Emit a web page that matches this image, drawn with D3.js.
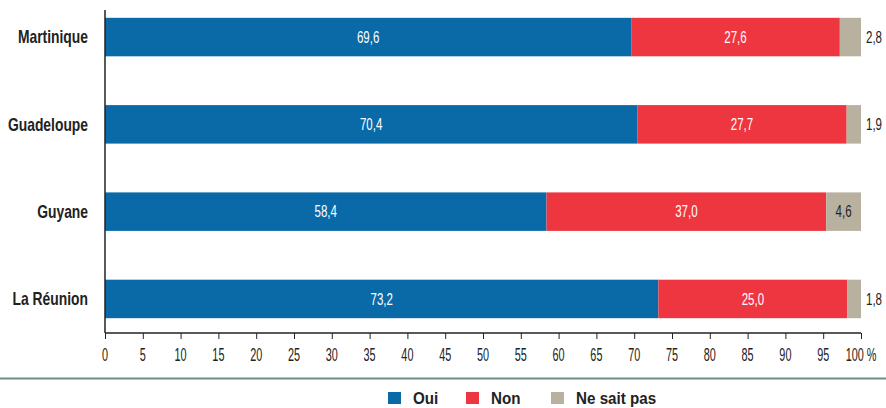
<!DOCTYPE html>
<html><head><meta charset="utf-8">
<script src="https://cdn.jsdelivr.net/npm/d3@7"></script>
<style>
body{margin:0;background:#fff;}
svg{display:block;font-family:"Liberation Sans","Roboto",sans-serif;}
</style></head><body>
<svg id="c" width="886" height="408"></svg>
<script>
const categories = ["Martinique","Guadeloupe","Guyane","La Réunion"];
const oui = [69.6, 70.4, 58.4, 73.2];
const non = [27.6, 27.7, 37.0, 25.0];
const nsp = [2.8, 1.9, 4.6, 1.8];
const seriesNames = ["Oui","Non","Ne sait pas"];
const colors = ["#0a6aa8","#ee3640","#b9b19f"];
const ticks = d3.range(0,101,5);
const unit = "%";

const svg = d3.select("#c");
const x = d3.scaleLinear().domain([0,100]).range([105,861]);
const y = d3.scaleBand().domain(categories).range([-2,338]).paddingInner(0.559).paddingOuter(0.227);
const fmt = v => v.toFixed(1).replace(".", ",");

// condensed text helper
function ctext(px, py, str, opt){
  const g = svg.append("g").attr("transform",`translate(${px},${py}) scale(${opt.sx||0.7},1)`);
  return g.append("text").attr("x",0).attr("y",0).attr("dy","0.35em")
    .attr("text-anchor",opt.anchor||"start").attr("fill",opt.fill||"#222")
    .attr("font-size",opt.size||14).attr("font-weight",opt.weight||"normal").text(str);
}

const rows = categories.map((c,i)=>({c, vals:[oui[i],non[i],nsp[i]]}));
rows.forEach(r=>{
  const cy = y(r.c)+y.bandwidth()/2;
  let acc=0;
  r.vals.forEach((v,k)=>{
    const x0=acc, x1=acc+v; acc=x1;
    svg.append("rect").attr("x",x(x0)).attr("width",x(x1)-x(x0))
      .attr("y",y(r.c)).attr("height",y.bandwidth()).attr("fill",colors[k]);
  });
  acc=0;
  r.vals.forEach((v,k)=>{
    const x0=acc, x1=acc+v; acc=x1;
    const o = {size:16, sx:0.72};
    if(k<2){
      ctext((x(x0)+x(x1))/2, cy, fmt(v), Object.assign(o,{anchor:"middle",fill:"#fff"}));
    } else if (v>=4){
      ctext((x(x0)+x(x1))/2, cy, fmt(v), Object.assign(o,{anchor:"middle",fill:"#222"}));
    } else {
      ctext(x(100)+5, cy, fmt(v), Object.assign(o,{anchor:"start",fill:"#222"}));
    }
  });
  ctext(88, cy, r.c, {anchor:"end",size:18,weight:"bold",sx:0.77});
});

// axes
svg.append("line").attr("x1",x(0)).attr("x2",x(0)).attr("y1",10).attr("y2",333)
  .attr("stroke","#222").attr("stroke-width",1.5);
const ax = svg.append("g").attr("transform","translate(0,333)")
  .call(d3.axisBottom(x).tickValues(ticks).tickSize(6).tickFormat(""));
ax.select(".domain").attr("stroke","#222").attr("stroke-width",1.5).attr("d",`M${x(0)},0H${x(100)}`);
ax.selectAll(".tick line").attr("stroke","#222");
ticks.forEach((t,i)=>{
  const label = i===ticks.length-1 ? `${t} ${unit}` : String(t);
  ctext(x(t), 355, label, {anchor:"middle",size:17.5,sx:0.62});
});

// separator
svg.append("line").attr("x1",0).attr("x2",886).attr("y1",378.5).attr("y2",378.5)
  .attr("stroke","#6f9088").attr("stroke-width",2);

// legend
const legX=[388,466,551];
seriesNames.forEach((n,k)=>{
  svg.append("rect").attr("x",legX[k]).attr("y",392).attr("width",13).attr("height",12).attr("fill",colors[k]);
  ctext(legX[k]+25, 398, n, {size:16,weight:"bold",sx:0.95});
});
</script></body></html>
